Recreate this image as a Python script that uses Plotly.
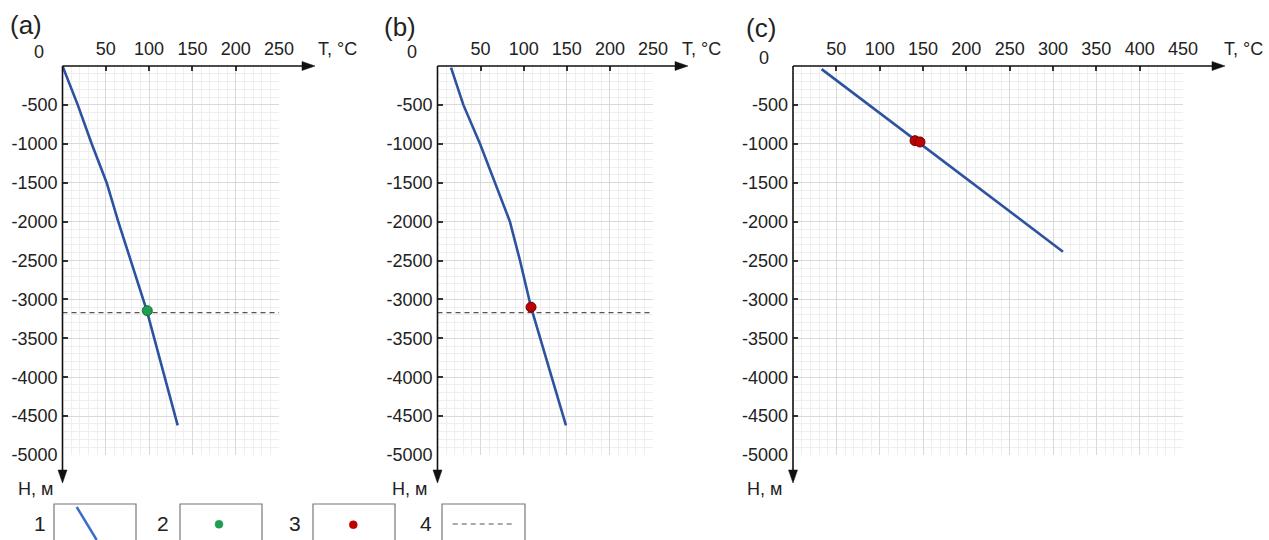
import plotly.graph_objects as go

W, H = 1269, 540  # design canvas (the figure fills the browser window)

# ---------------- data ----------------
T_a = [0, 17.6, 33.7, 51, 64.4, 79, 97.5, 133]
H_a = [0, -500, -1000, -1500, -2000, -2500, -3150, -4620]
T_b = [15.7, 30, 49.3, 66.7, 84, 95.7, 108.5, 149]
H_b = [-20, -500, -1000, -1500, -2000, -2500, -3100, -4620]
T_c = [33, 311.5]
H_c = [-40, -2387]
pt_a_T, pt_a_H = [97.9], [-3145]
pt_b_T, pt_b_H = [108.5], [-3100]
pt_c_T, pt_c_H = [140.8, 146.5], [-960, -977]
dash_H = -3170
T_ticks_ab = [50, 100, 150, 200, 250]
T_ticks_c = [50, 100, 150, 200, 250, 300, 350, 400, 450]
H_ticks = [-500, -1000, -1500, -2000, -2500, -3000, -3500, -4000, -4500, -5000]
H_ticktext = ["-500", "-1000", "-1500", "-2000", "-2500", "-3000", "-3500", "-4000", "-4500", "-5000"]
panel_letters = ["(a)", "(b)", "(c)"]
legend_nums = ["1", "2", "3", "4"]

# ---------------- style ----------------
FONT = "Liberation Sans, Arial, sans-serif"
TXT = "#222222"
LINE_C = "#2d52a0"
GREEN = "#1f9d52"
RED = "#c00000"
MAJ_GRID = "#d9d9d9"
MIN_GRID = "#efefef"
FS = 18


def px(x):
    return x / W


def py(y):
    return 1 - y / H


# pixel geometry of each panel: origin x, grid right edge, arrow tip x
geom = [
    dict(ox=62.5, gx=279, tip=315, tmax=250, ticks=T_ticks_ab),
    dict(ox=437.5, gx=653, tip=688, tmax=250, ticks=T_ticks_ab),
    dict(ox=793, gx=1183, tip=1225, tmax=450, ticks=T_ticks_c),
]
OY, GY, YTIP = 66, 455, 483

fig = go.Figure()

series = [
    (T_a, H_a, pt_a_T, pt_a_H, GREEN, "#0d6b33", True),
    (T_b, H_b, pt_b_T, pt_b_H, RED, "#6e0000", True),
    (T_c, H_c, pt_c_T, pt_c_H, RED, "#6e0000", False),
]

layout_axes = {}
for i, (g, s) in enumerate(zip(geom, series)):
    n = "" if i == 0 else str(i + 1)
    xa, ya = "x" + n, "y" + n
    Tl, Hl, pT, pH, mc, mlc, has_dash = s
    if has_dash:
        fig.add_trace(go.Scatter(x=[0, g["tmax"]], y=[dash_H, dash_H], mode="lines",
                                 line=dict(color="#555555", width=1.2, dash="5px,4px"),
                                 xaxis=xa, yaxis=ya, showlegend=False, hoverinfo="skip"))
    fig.add_trace(go.Scatter(x=Tl, y=Hl, mode="lines", line=dict(color=LINE_C, width=2.6),
                             xaxis=xa, yaxis=ya, showlegend=False))
    fig.add_trace(go.Scatter(x=pT, y=pH, mode="markers",
                             marker=dict(color=mc, size=10, line=dict(color=mlc, width=1)),
                             xaxis=xa, yaxis=ya, showlegend=False))
    layout_axes["xaxis" + n] = dict(
        domain=[px(g["ox"]), px(g["gx"])], range=[0, g["tmax"]], side="top", anchor=ya,
        tickmode="array", tickvals=g["ticks"], ticktext=[str(v) for v in g["ticks"]],
        showgrid=True, gridcolor=MAJ_GRID, gridwidth=1, zeroline=False, showline=False,
        ticks="inside", ticklen=5, tickwidth=1.5, tickcolor="#333333",
        ticklabelstandoff=6,
        tickfont=dict(family=FONT, size=FS, color=TXT),
        minor=dict(tickmode="linear", tick0=0, dtick=10, showgrid=True, gridcolor=MIN_GRID,
                   gridwidth=1, ticks=""),
        fixedrange=True,
    )
    layout_axes["yaxis" + n] = dict(
        domain=[py(GY), py(OY)], range=[-5000, 0], anchor=xa,
        tickmode="array", tickvals=H_ticks, ticktext=H_ticktext,
        showgrid=True, gridcolor=MAJ_GRID, gridwidth=1, zeroline=False, showline=False,
        ticks="inside", ticklen=5, tickwidth=1.5, tickcolor="#333333",
        ticklabelstandoff=4,
        tickfont=dict(family=FONT, size=FS, color=TXT),
        minor=dict(tickmode="linear", tick0=0, dtick=100, showgrid=True, gridcolor=MIN_GRID,
                   gridwidth=1, ticks=""),
        fixedrange=True,
    )

shapes = []
annotations = []
# axis lines with arrows
zero_pos = [(39, 52), (412, 52), (764, 58)]
letter_pos = [(26, 25), (400, 27), (761, 28)]
tlabel_x = [316, 680, 1222]
hlabel_x = [35, 409, 764]
for i, g in enumerate(geom):
    ox = g["ox"]
    shapes.append(dict(type="line", xref="paper", yref="paper", x0=px(ox), y0=py(OY),
                       x1=px(g["tip"] - 8), y1=py(OY), line=dict(color="#111111", width=1.6)))
    shapes.append(dict(type="path", xref="paper", yref="paper",
                       path="M {} {} L {} {} L {} {} Z".format(
                           px(g["tip"]), py(OY), px(g["tip"] - 13), py(OY - 4.5),
                           px(g["tip"] - 13), py(OY + 4.5)),
                       fillcolor="#111111", line=dict(color="#111111", width=0.5)))
    shapes.append(dict(type="line", xref="paper", yref="paper", x0=px(ox), y0=py(OY),
                       x1=px(ox), y1=py(YTIP - 8), line=dict(color="#111111", width=1.6)))
    shapes.append(dict(type="path", xref="paper", yref="paper",
                       path="M {} {} L {} {} L {} {} Z".format(
                           px(ox), py(YTIP), px(ox - 4.5), py(YTIP - 13),
                           px(ox + 4.5), py(YTIP - 13)),
                       fillcolor="#111111", line=dict(color="#111111", width=0.5)))
    annotations.append(dict(text=panel_letters[i], x=px(letter_pos[i][0]), y=py(letter_pos[i][1]),
                            xref="paper", yref="paper", showarrow=False, xanchor="center",
                            yanchor="middle", font=dict(family=FONT, size=26, color=TXT)))
    annotations.append(dict(text="0", x=px(zero_pos[i][0]), y=py(zero_pos[i][1]),
                            xref="paper", yref="paper", showarrow=False, xanchor="center",
                            yanchor="middle", font=dict(family=FONT, size=FS, color=TXT)))
    annotations.append(dict(text="T, °C", x=px(tlabel_x[i]), y=py(49),
                            xref="paper", yref="paper", showarrow=False, xanchor="left",
                            yanchor="middle", font=dict(family=FONT, size=FS, color=TXT)))
    annotations.append(dict(text="Н, м", x=px(hlabel_x[i]), y=py(489),
                            xref="paper", yref="paper", showarrow=False, xanchor="center",
                            yanchor="middle", font=dict(family=FONT, size=FS, color=TXT)))

# legend boxes (open at the bottom: cut by the picture edge)
box_x = [(54, 136), (180, 262), (313, 395), (442, 525)]
num_x = [40, 163, 295, 426]
for i, (bx0, bx1) in enumerate(box_x):
    shapes.append(dict(type="path", xref="paper", yref="paper",
                       path="M {} {} L {} {} L {} {} L {} {}".format(
                           px(bx0), py(540), px(bx0), py(504), px(bx1), py(504),
                           px(bx1), py(540)),
                       line=dict(color="#777777", width=1.2)))
    annotations.append(dict(text=legend_nums[i], x=px(num_x[i]), y=py(523), xref="paper",
                            yref="paper", showarrow=False, xanchor="center", yanchor="middle",
                            font=dict(family=FONT, size=21, color=TXT)))
# legend samples
shapes.append(dict(type="line", xref="paper", yref="paper", x0=px(76.7), y0=py(507),
                   x1=px(96.7), y1=py(540), line=dict(color="#3a6cc9", width=2.5)))
for cx, cy, col in [(219, 524.3, GREEN), (353.3, 524.7, RED)]:
    shapes.append(dict(type="circle", xref="paper", yref="paper", xsizemode="pixel",
                       ysizemode="pixel", xanchor=px(cx), yanchor=py(cy), x0=-4, x1=4,
                       y0=-4, y1=4, fillcolor=col, line=dict(color=col, width=0.5)))
shapes.append(dict(type="line", xref="paper", yref="paper", x0=px(452.7), y0=py(524),
                   x1=px(514), y1=py(524),
                   line=dict(color="#555555", width=1.2, dash="5px,4px")))

fig.update_layout(
    autosize=True, margin=dict(l=0, r=0, t=0, b=0, autoexpand=False),
    paper_bgcolor="white", plot_bgcolor="white",
    shapes=shapes, annotations=annotations, showlegend=False,
    **layout_axes,
)

fig.write_html(
    "out.html",
    default_width="100vw",
    default_height="100vh",
    config={"displayModeBar": False, "responsive": True},
    post_script=("document.documentElement.style.margin='0';"
                 "document.documentElement.style.overflow='hidden';"
                 "document.body.style.margin='0';document.body.style.padding='0';"
                 "document.body.style.overflow='hidden';"
                 "window.dispatchEvent(new Event('resize'));"),
)
